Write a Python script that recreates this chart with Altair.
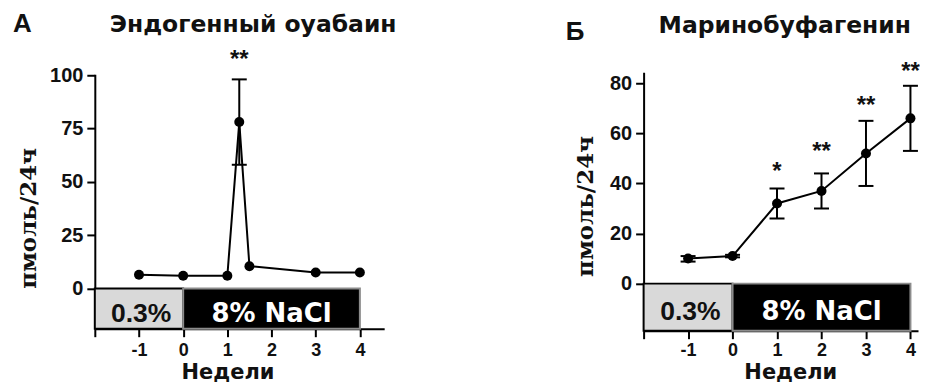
import altair as alt
import pandas as pd

# ---------------- data ----------------
# Panel A: endogenous ouabain
a_weeks = [-1, 0, 1, 1.27, 1.5, 3, 4]
a_vals = [6.5, 6.0, 6.0, 78.0, 10.5, 7.5, 7.5]
a_err_weeks = [1.27]
a_err_lo = [58.0]
a_err_hi = [98.0]
a_star_weeks = [1.27]
a_star_y = [109.0]
a_star_text = ["**"]
a_yticks = [0, 25, 50, 75, 100]

# Panel B: marinobufagenin
b_weeks = [-1, 0, 1, 2, 3, 4]
b_vals = [10.0, 11.0, 32.0, 37.0, 52.0, 66.0]
b_err_lo = [8.8, 10.5, 26.0, 30.0, 39.0, 53.0]
b_err_hi = [11.0, 11.5, 38.0, 44.0, 65.0, 79.0]
b_star_weeks = [1, 2, 3, 4]
b_star_y = [46.0, 54.0, 72.5, 86.0]
b_star_text = ["*", "**", "**", "**"]
b_yticks = [0, 20, 40, 60, 80]

# diet bar
diet_labels = ["0.3%", "8% NaCl"]
diet_start = [-2, 0]
diet_end = [0, 4]
diet_fill = ["#d9d9d9", "#000000"]
diet_stroke = ["#000000", "#8c8c8c"]
diet_text_color = ["#111111", "#ffffff"]
diet_label_x = [-0.95, 2.0]
x_ticks = [-2, -1, 0, 1, 2, 3, 4]

SANS = "Liberation Sans"
WIDE = "DejaVu Sans"
SERIF = "DejaVu Serif"


def panel(weeks, vals, err_w, err_lo, err_hi, star_w, star_y, star_t, yticks,
          ymin, ymax, xmax, width, height, ytitle_x, ytitle_y, xtitle_x, xtitle_y,
          xlab_pad, letter, letter_x, letter_y, title, title_x, title_y):
    xs = alt.Scale(domain=[-2, xmax], nice=False, zero=False)
    ys = alt.Scale(domain=[ymin, ymax], nice=False, zero=False)
    xax = alt.Axis(values=x_ticks,
                   labelExpr="datum.value == -2 ? '' : '' + datum.value",
                   title="Недели", titleX=xtitle_x, titleY=xtitle_y,
                   titleFontSize=21, titleFont=WIDE, titleFontWeight="bold",
                   labelFontSize=18, labelFont=SANS, labelFontWeight="bold",
                   labelPadding=xlab_pad, tickSize=8, grid=False)
    yax = alt.Axis(values=yticks, title="пмоль/24ч", titleFont=SERIF,
                   titleFontSize=23, titleFontWeight="bold",
                   titleX=ytitle_x, titleY=ytitle_y, titleAngle=-90,
                   labelFontSize=20, labelFont=SANS, labelFontWeight="bold",
                   labelPadding=4, tickSize=8, grid=False)

    def X(f="x"):
        return alt.X(f + ":Q", scale=xs, axis=xax)

    def Y(f="y"):
        return alt.Y(f + ":Q", scale=ys, axis=yax)

    diet = pd.DataFrame({"x": diet_start, "x2": diet_end,
                         "y": [0, 0], "y2": [ymin, ymin],
                         "fill": diet_fill, "stroke": diet_stroke})
    rects = alt.Chart(diet).mark_rect(strokeWidth=2).encode(
        x=X(), x2="x2:Q", y=Y(), y2="y2:Q",
        color=alt.Color("fill:N", scale=None),
        stroke=alt.Stroke("stroke:N", scale=None))

    pts = pd.DataFrame({"x": weeks, "y": vals})
    line = alt.Chart(pts).mark_line(color="black", strokeWidth=2).encode(x=X(), y=Y())
    dots = alt.Chart(pts).mark_point(filled=True, color="black", size=100, opacity=1).encode(x=X(), y=Y())

    err = pd.DataFrame({"x": err_w, "y": err_lo, "y2": err_hi})
    rule = alt.Chart(err).mark_rule(color="black", strokeWidth=2).encode(x=X(), y=Y(), y2="y2:Q")
    caps_df = pd.DataFrame({"x": err_w + err_w, "y": err_lo + err_hi})
    caps = alt.Chart(caps_df).mark_tick(orient="horizontal", color="black", size=15,
                                        thickness=2, opacity=1).encode(x=X(), y=Y())

    stars_df = pd.DataFrame({"x": star_w, "y": star_y, "t": star_t})
    stars = alt.Chart(stars_df).mark_text(fontSize=24, font=SANS, fontWeight="bold",
                                          baseline="middle", dy=4, color="#111").encode(
        x=X(), y=Y(), text="t:N")

    lab_df = pd.DataFrame({"x": diet_label_x, "y": [ymin / 2, ymin / 2],
                           "t": diet_labels, "c": diet_text_color})
    fonts = [SANS, WIDE]
    sizes = [26.5, 26]
    labs = alt.layer(*[
        alt.Chart(lab_df.iloc[[i]]).mark_text(fontSize=sizes[i], font=fonts[i], fontWeight="bold",
                                              baseline="middle", dy=5).encode(
            x=X(), y=Y(), text="t:N", color=alt.Color("c:N", scale=None))
        for i in range(len(lab_df))
    ])

    head_df = pd.DataFrame({"t": [letter]})
    head = alt.Chart(head_df).mark_text(fontSize=26, font=SANS, fontWeight="bold",
                                        align="left", baseline="alphabetic", color="#111").encode(
        x=alt.value(letter_x), y=alt.value(letter_y), text="t:N")
    ttl_df = pd.DataFrame({"t": [title]})
    ttl = alt.Chart(ttl_df).mark_text(fontSize=23.5, font=WIDE, fontWeight="bold",
                                      align="left", baseline="alphabetic", color="#111").encode(
        x=alt.value(title_x), y=alt.value(title_y), text="t:N")

    return alt.layer(rects, line, rule, caps, dots, stars, labs, head, ttl).properties(
        width=width, height=height)


left = panel(a_weeks, a_vals, a_err_weeks, a_err_lo, a_err_hi, a_star_weeks, a_star_y, a_star_text,
             a_yticks, -18.8, 100.4, 4.55, 290, 255, -54, 144, 133, 33, 5,
             "А", -82, -42, "Эндогенный оуабаин", 15, -42)

right = panel(b_weeks, b_vals, b_weeks, b_err_lo, b_err_hi, b_star_weeks, b_star_y, b_star_text,
              b_yticks, -18.8, 84.4, 4.17, 275, 259, -46, 134, 147, 31, 3,
              "Б", -78, -32, "Маринобуфагенин", 15, -39)

chart = alt.hconcat(left, right, spacing=260, bounds="flush", center=True).properties(
    padding={"left": 5, "top": 3, "right": 0, "bottom": 0}
).configure_view(stroke=None).configure_axis(
    domainColor="black", domainWidth=2, tickColor="black", tickWidth=2,
    labelColor="#111", titleColor="#111"
)

chart.save("out.html", embed_options={"renderer": "svg", "actions": False})
